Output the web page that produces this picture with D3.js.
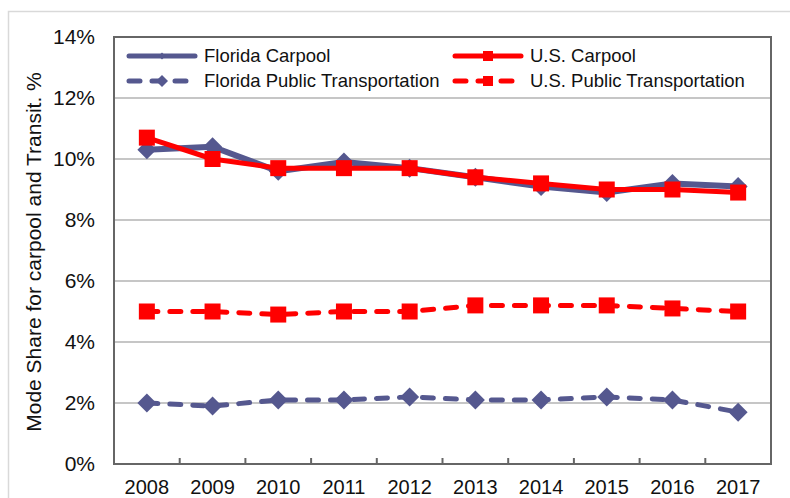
<!DOCTYPE html>
<html>
<head>
<meta charset="utf-8">
<script src="https://cdn.jsdelivr.net/npm/d3@7"></script>
<style>
    body { margin: 0; background: #fff; }
    svg { font-family: "Liberation Sans", Arial, sans-serif; }
</style>
</head>
<body>
<svg id="chart" width="790" height="498"></svg>
<script>
(function(){
    "use strict";

    var years = ["2008", "2009", "2010", "2011", "2012", "2013", "2014", "2015", "2016", "2017"];
    var floridaCarpool = [10.3, 10.4, 9.6, 9.9, 9.7, 9.4, 9.1, 8.9, 9.2, 9.1];
    var usCarpool = [10.7, 10.0, 9.7, 9.7, 9.7, 9.4, 9.2, 9.0, 9.0, 8.9];
    var floridaTransit = [2.0, 1.9, 2.1, 2.1, 2.2, 2.1, 2.1, 2.2, 2.1, 1.7];
    var usTransit = [5.0, 5.0, 4.9, 5.0, 5.0, 5.2, 5.2, 5.2, 5.1, 5.0];
    var yTicks = [0, 2, 4, 6, 8, 10, 12, 14];

    var blue = "#55588f";
    var red = "#ff0000";

    var series = [
        {name: "Florida Carpool", values: floridaCarpool, color: blue, dashed: false, marker: "diamond", width: 6},
        {name: "U.S. Carpool", values: usCarpool, color: red, dashed: false, marker: "square", width: 5},
        {name: "Florida Public Transportation", values: floridaTransit, color: blue, dashed: true, marker: "diamond", width: 5},
        {name: "U.S. Public Transportation", values: usTransit, color: red, dashed: true, marker: "square", width: 5}
    ];

    var svg = d3.select("#chart");
    var left = 114, right = 771, top = 37, bottom = 464;

    // outer light frame
    svg.append("rect")
        .attr("x", 8.5).attr("y", 11.5)
        .attr("width", 800).attr("height", 500)
        .attr("fill", "none").attr("stroke", "#d9d9d9").attr("stroke-width", 1.5);

    var x = d3.scaleBand().domain(years).range([left, right]);
    var y = d3.scaleLinear().domain([0, 14]).range([bottom, top]);

    // gridlines
    svg.append("g").selectAll("line")
        .data(yTicks.slice(1, -1))
        .enter().append("line")
        .attr("x1", left).attr("x2", right)
        .attr("y1", function(d){ return y(d); })
        .attr("y2", function(d){ return y(d); })
        .attr("stroke", "#b3b3b3").attr("stroke-width", 1.5);

    // plot border
    svg.append("rect")
        .attr("x", left).attr("y", top)
        .attr("width", right - left).attr("height", bottom - top)
        .attr("fill", "none").attr("stroke", "#666").attr("stroke-width", 2);

    // y labels
    svg.append("g").selectAll("text")
        .data(yTicks)
        .enter().append("text")
        .attr("x", 95)
        .attr("y", function(d){ return y(d) + 7; })
        .attr("text-anchor", "end")
        .attr("font-size", 21)
        .attr("fill", "#111")
        .text(function(d){ return d + "%"; });

    // x ticks (inward, at category boundaries)
    svg.append("g").selectAll("line")
        .data(years.slice(1))
        .enter().append("line")
        .attr("x1", function(d){ return x(d); })
        .attr("x2", function(d){ return x(d); })
        .attr("y1", bottom).attr("y2", bottom - 6)
        .attr("stroke", "#666").attr("stroke-width", 2);

    svg.append("g").selectAll("text")
        .data(years)
        .enter().append("text")
        .attr("x", function(d){ return x(d) + x.bandwidth() / 2; })
        .attr("y", 494)
        .attr("text-anchor", "middle")
        .attr("font-size", 20)
        .attr("fill", "#111")
        .text(function(d){ return d; });

    svg.append("text")
        .attr("transform", "translate(41,252) rotate(-90)")
        .attr("text-anchor", "middle")
        .attr("font-size", 21)
        .attr("fill", "#111")
        .text("Mode Share for carpool and Transit. %");

    function drawMarker(g, type, color, size){
        if(type === "square"){
            g.append("rect")
                .attr("x", -size / 2).attr("y", -size / 2)
                .attr("width", size).attr("height", size)
                .attr("fill", color);
        } else {
            var h = size / 2;
            g.append("path")
                .attr("d", "M0," + (-h) + "L" + h + ",0L0," + h + "L" + (-h) + ",0Z")
                .attr("fill", color);
        }
    }

    var line = d3.line()
        .x(function(d, i){ return x(years[i]) + x.bandwidth() / 2; })
        .y(function(d){ return y(d); });

    // draw Florida first, U.S. on top
    var drawOrder = [series[2], series[3], series[0], series[1]];
    drawOrder.forEach(function(s){
        svg.append("path")
            .datum(s.values)
            .attr("d", line)
            .attr("fill", "none")
            .attr("stroke", s.color)
            .attr("stroke-width", s.width)
            .attr("stroke-linejoin", "round")
            .attr("stroke-linecap", "round")
            .attr("stroke-dasharray", s.dashed ? "11,12" : null);

        s.values.forEach(function(v, i){
            var g = svg.append("g")
                .attr("transform", "translate(" + (x(years[i]) + x.bandwidth() / 2) + "," + y(v) + ")");
            drawMarker(g, s.marker, s.color, s.marker === "square" ? 16 : 19);
        });
    });

    // legend
    var legendPos = [
        {lx: 127, ty: 56}, {lx: 453, ty: 56},
        {lx: 127, ty: 81}, {lx: 453, ty: 81}
    ];
    series.forEach(function(s, i){
        var p = legendPos[i];
        var g = svg.append("g");
        g.append("line")
            .attr("x1", p.lx + 2).attr("x2", p.lx + 68)
            .attr("y1", p.ty).attr("y2", p.ty)
            .attr("stroke", s.color).attr("stroke-width", 5)
            .attr("stroke-linecap", "round")
            .attr("stroke-dasharray", s.dashed ? "11,12" : null);
        var m = g.append("g").attr("transform", "translate(" + (p.lx + 35) + "," + p.ty + ")");
        if(s.marker === "square"){
            drawMarker(m, "square", s.color, 10);
        } else {
            drawMarker(m, "diamond", s.color, s.dashed ? 12 : 7);
        }
        g.append("text")
            .attr("x", p.lx + 77).attr("y", p.ty + 6)
            .attr("font-size", 18.5)
            .attr("fill", "#111")
            .text(s.name);
    });
}());
</script>
</body>
</html>
